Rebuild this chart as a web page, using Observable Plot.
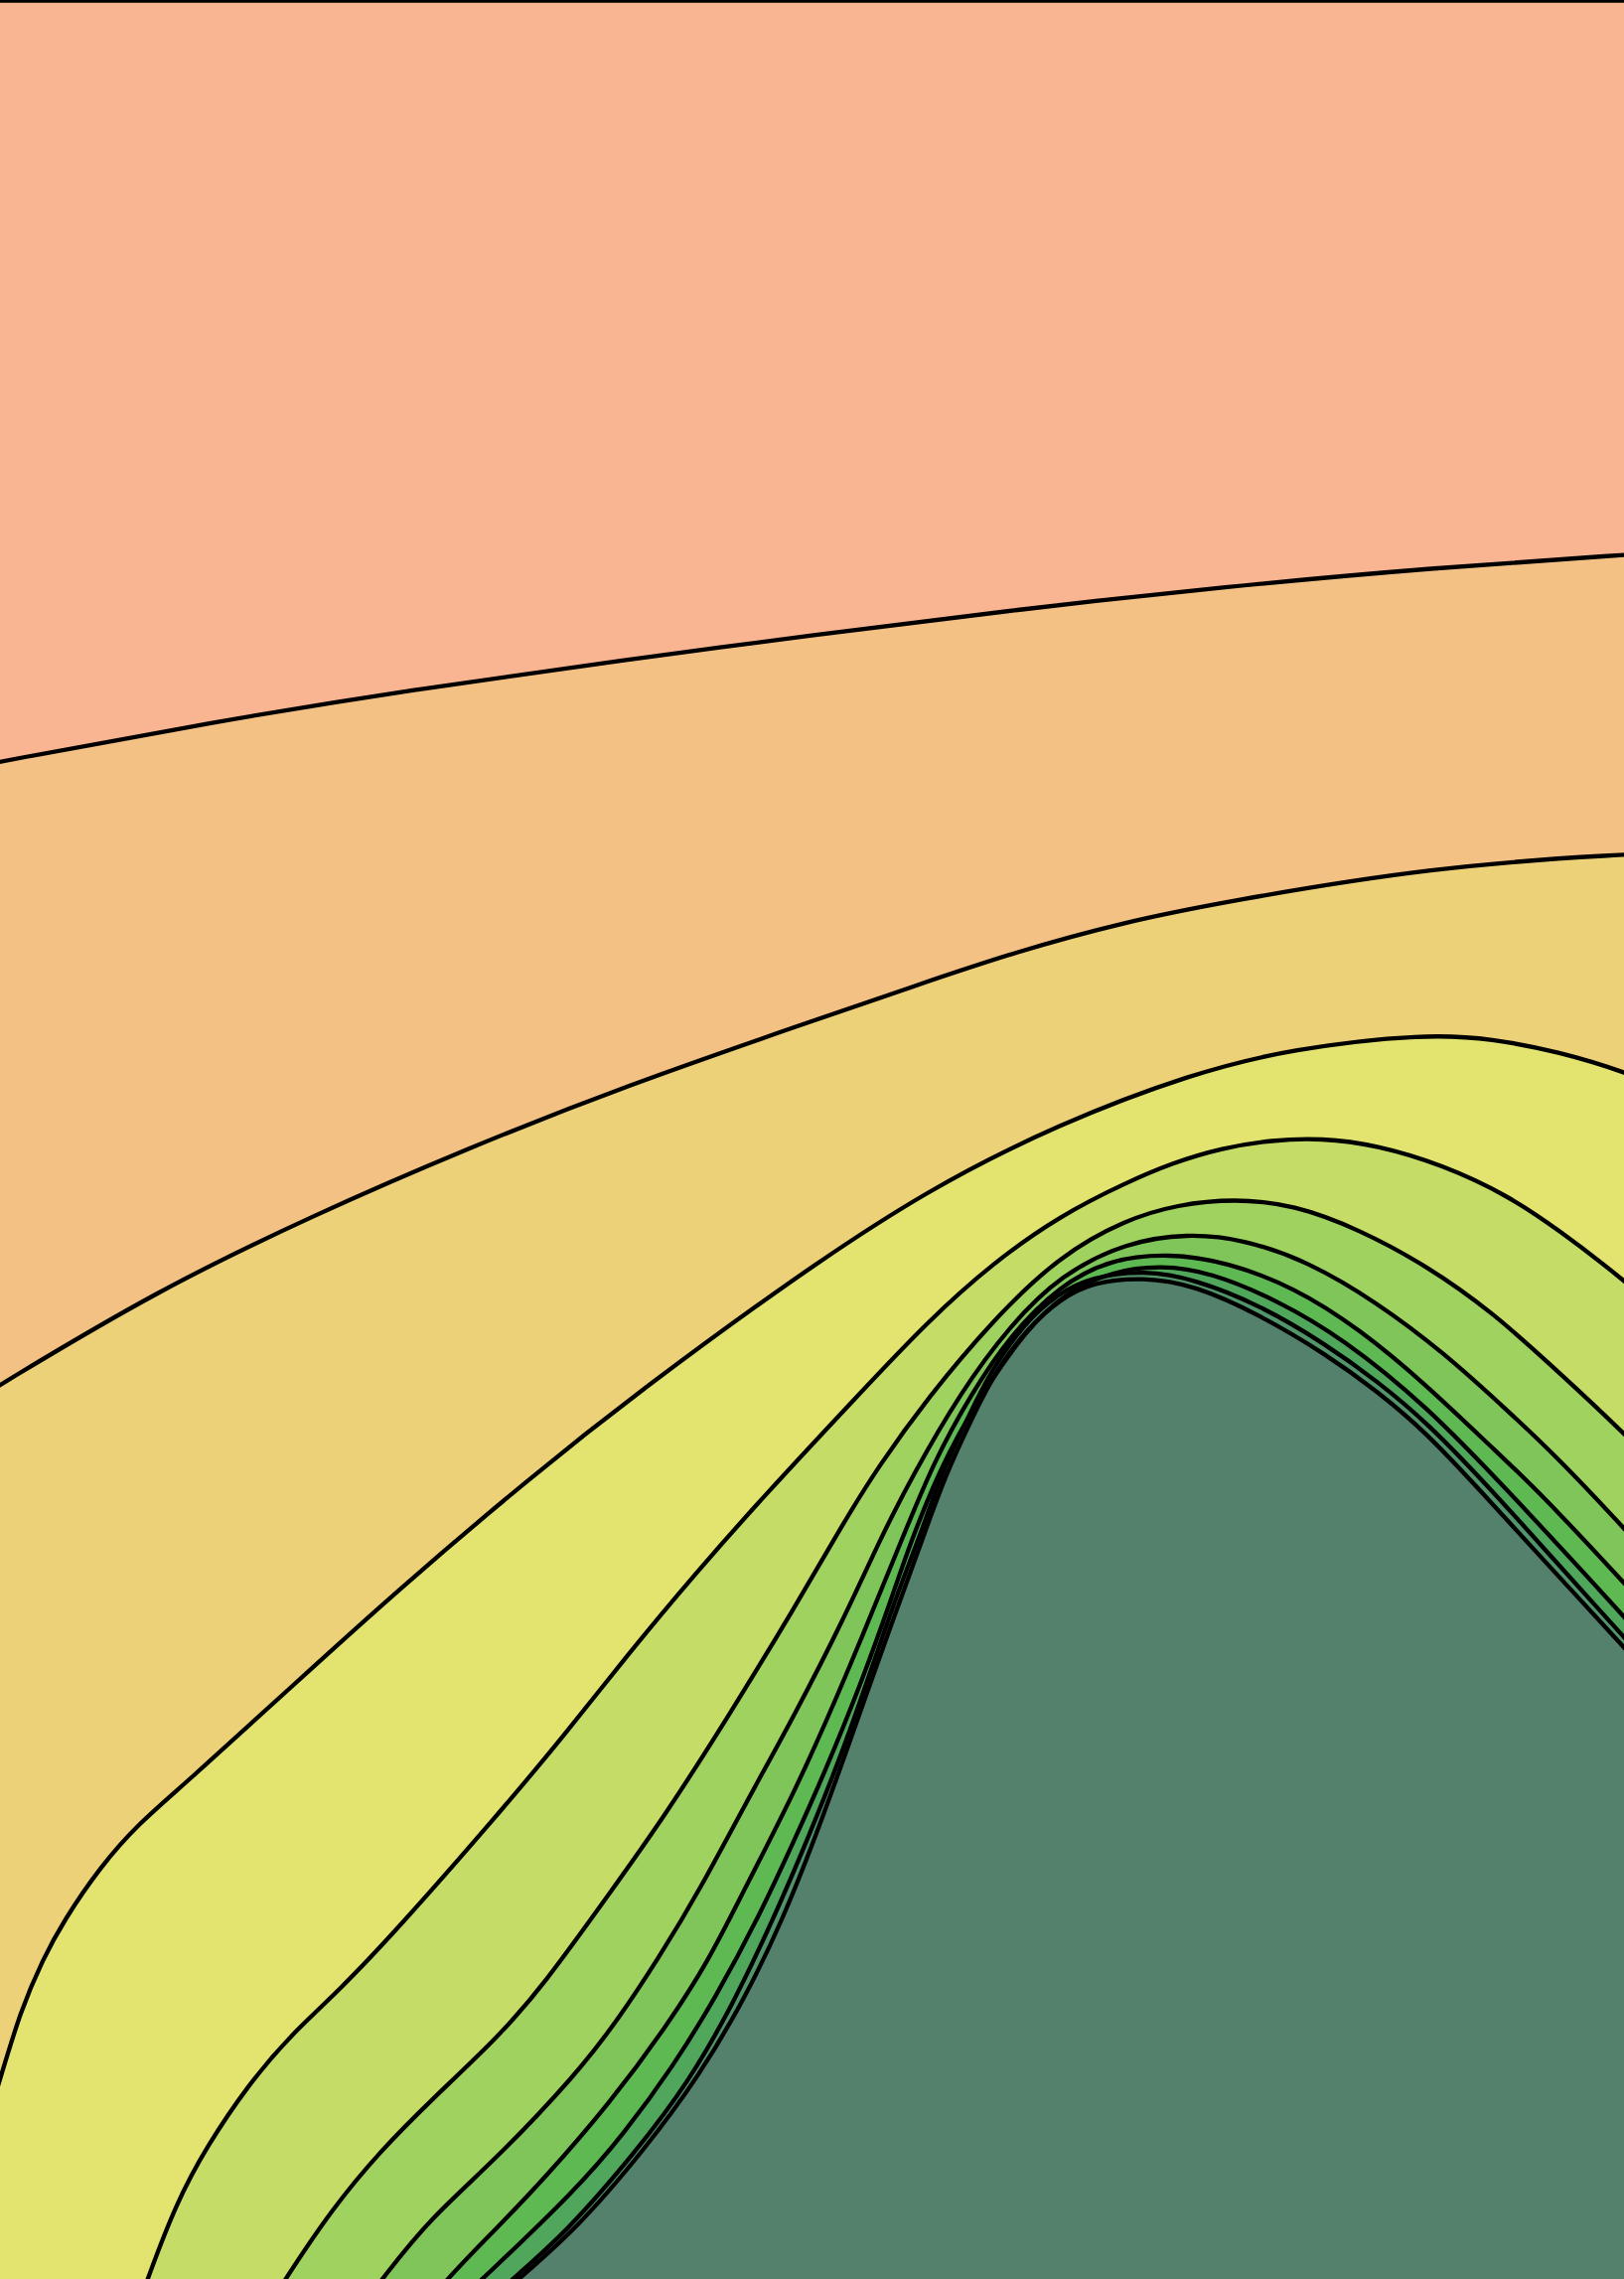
<!DOCTYPE html>
<html><head><meta charset="utf-8">
<style>html,body{margin:0;padding:0;background:#fff;overflow:hidden}svg{display:block}</style>
<script src="https://cdn.jsdelivr.net/npm/d3@7"></script>
<script src="https://cdn.jsdelivr.net/npm/@observablehq/plot@0.6"></script>
</head><body><div id="chart"></div>
<script>
const level0 = [[-15,0],[1650,0]];
const level1 = [[-60,778],[0,766],[209,727],[418,693],[628,664],[815,639],[1024,613],[1233,590],[1443,571],[1635,558],[1700,554]];
const level2 = [[-60,1430],[0,1393],[157,1299],[314,1223],[471,1155],[628,1093],[815,1028],[920,992],[1024,957],[1130,928],[1233,907],[1443,872],[1635,859],[1700,858]];
const level3 = [[-30,2190],[0,2091],[20,2024],[43,1971],[63,1934],[100,1879],[140,1834],[187,1794],[290,1700],[400,1600],[533,1487],[643,1400],[800,1285],[933,1197],[1067,1130],[1200,1080],[1300,1055],[1435,1040],[1502,1045],[1568,1058],[1635,1078],[1700,1105]];
const level4 = [[125,2360],[148,2293],[177,2217],[207,2161],[250,2097],[293,2047],[340,2004],[400,1941],[500,1827],[567,1747],[633,1663],[700,1583],[767,1507],[867,1400],[933,1330],[1000,1270],[1067,1223],[1133,1190],[1180,1170],[1230,1155],[1280,1147],[1330,1145],[1385,1152],[1452,1172],[1518,1203],[1568,1237],[1635,1288],[1700,1345]];
const level5 = [[245,2360],[287,2293],[333,2224],[383,2164],[433,2114],[500,2051],[545,2000],[617,1900],[667,1830],[733,1727],[800,1617],[850,1530],[883,1477],[933,1407],[1000,1327],[1067,1263],[1133,1227],[1185,1212],[1242,1206],[1302,1212],[1368,1237],[1435,1273],[1502,1320],[1568,1380],[1635,1442],[1700,1510]];
const level6 = [[335,2360],[385,2292],[433,2232],[500,2172],[580,2087],[620,2035],[663,1970],[705,1900],[750,1815],[800,1725],[850,1627],[885,1550],[917,1487],[967,1400],[1017,1333],[1067,1283],[1133,1250],[1195,1241],[1252,1247],[1318,1270],[1385,1310],[1452,1360],[1518,1420],[1568,1467],[1635,1538],[1700,1610]];
const level7 = [[395,2360],[450,2292],[500,2242],[547,2193],[613,2117],[670,2040],[713,1973],[747,1905],[800,1803],[850,1690],[907,1550],[940,1470],[977,1403],[1017,1343],[1067,1293],[1117,1267],[1177,1261],[1235,1270],[1302,1295],[1368,1337],[1435,1393],[1502,1457],[1548,1500],[1635,1593],[1700,1665]];
const level8 = [[430,2345],[487,2292],[580,2203],[627,2148],[677,2080],[720,2010],[763,1930],[800,1850],[827,1790],[867,1693],[900,1600],[915,1555],[947,1475],[983,1410],[1033,1337],[1073,1300],[1120,1279],[1168,1273],[1218,1280],[1285,1308],[1352,1347],[1435,1414],[1518,1500],[1635,1627],[1700,1700]];
const level9 = [[460,2345],[517,2292],[570,2246],[640,2165],[693,2095],[737,2018],[780,1927],[813,1850],[855,1745],[900,1610],[925,1548],[947,1483],[977,1420],[997,1380],[1030,1332],[1064,1302],[1098,1285],[1152,1278],[1202,1287],[1268,1313],[1335,1353],[1385,1389],[1435,1430],[1502,1500],[1560,1565],[1635,1648],[1700,1720]];
const level10 = [[465,2345],[523,2292],[580,2243],[647,2165],[703,2090],[750,2010],[787,1933],[820,1850],[850,1767],[900,1625],[928,1550],[950,1487],[980,1423],[1000,1383],[1033,1337],[1067,1307],[1100,1290],[1150,1285],[1202,1293],[1268,1323],[1335,1363],[1385,1399],[1435,1441],[1490,1500],[1560,1577],[1635,1658],[1700,1730]];
const levels = [level0,level1,level2,level3,level4,level5,level6,level7,level8,level9,level10];
const bandColors = ["#f9b491","#f4c184","#ecd178","#e3e36f","#c5dd67","#9fd25e","#7fc55a","#5fb953","#50a65b","#52956a","#53816b"];
const curve = "basis";
const X = d => d[0], Y = d => d[1];
const floor = 2400;
const chart = Plot.plot({
  width: 1635, height: 2294,
  margin: 0,
  x: {domain: [0, 1635], range: [0, 1635], axis: null},
  y: {domain: [0, 2294], range: [0, 2294], axis: null},
  marks: [
    ...levels.map((lv, i) => Plot.areaY(lv, {x: X, y1: Y, y2: () => floor, fill: bandColors[i], curve, clip: true})),
    ...levels.map(lv => Plot.line(lv, {x: X, y: Y, stroke: "#000", strokeWidth: 4.3, curve, clip: true}))
  ]
});
document.getElementById("chart").appendChild(chart);
</script></body></html>
